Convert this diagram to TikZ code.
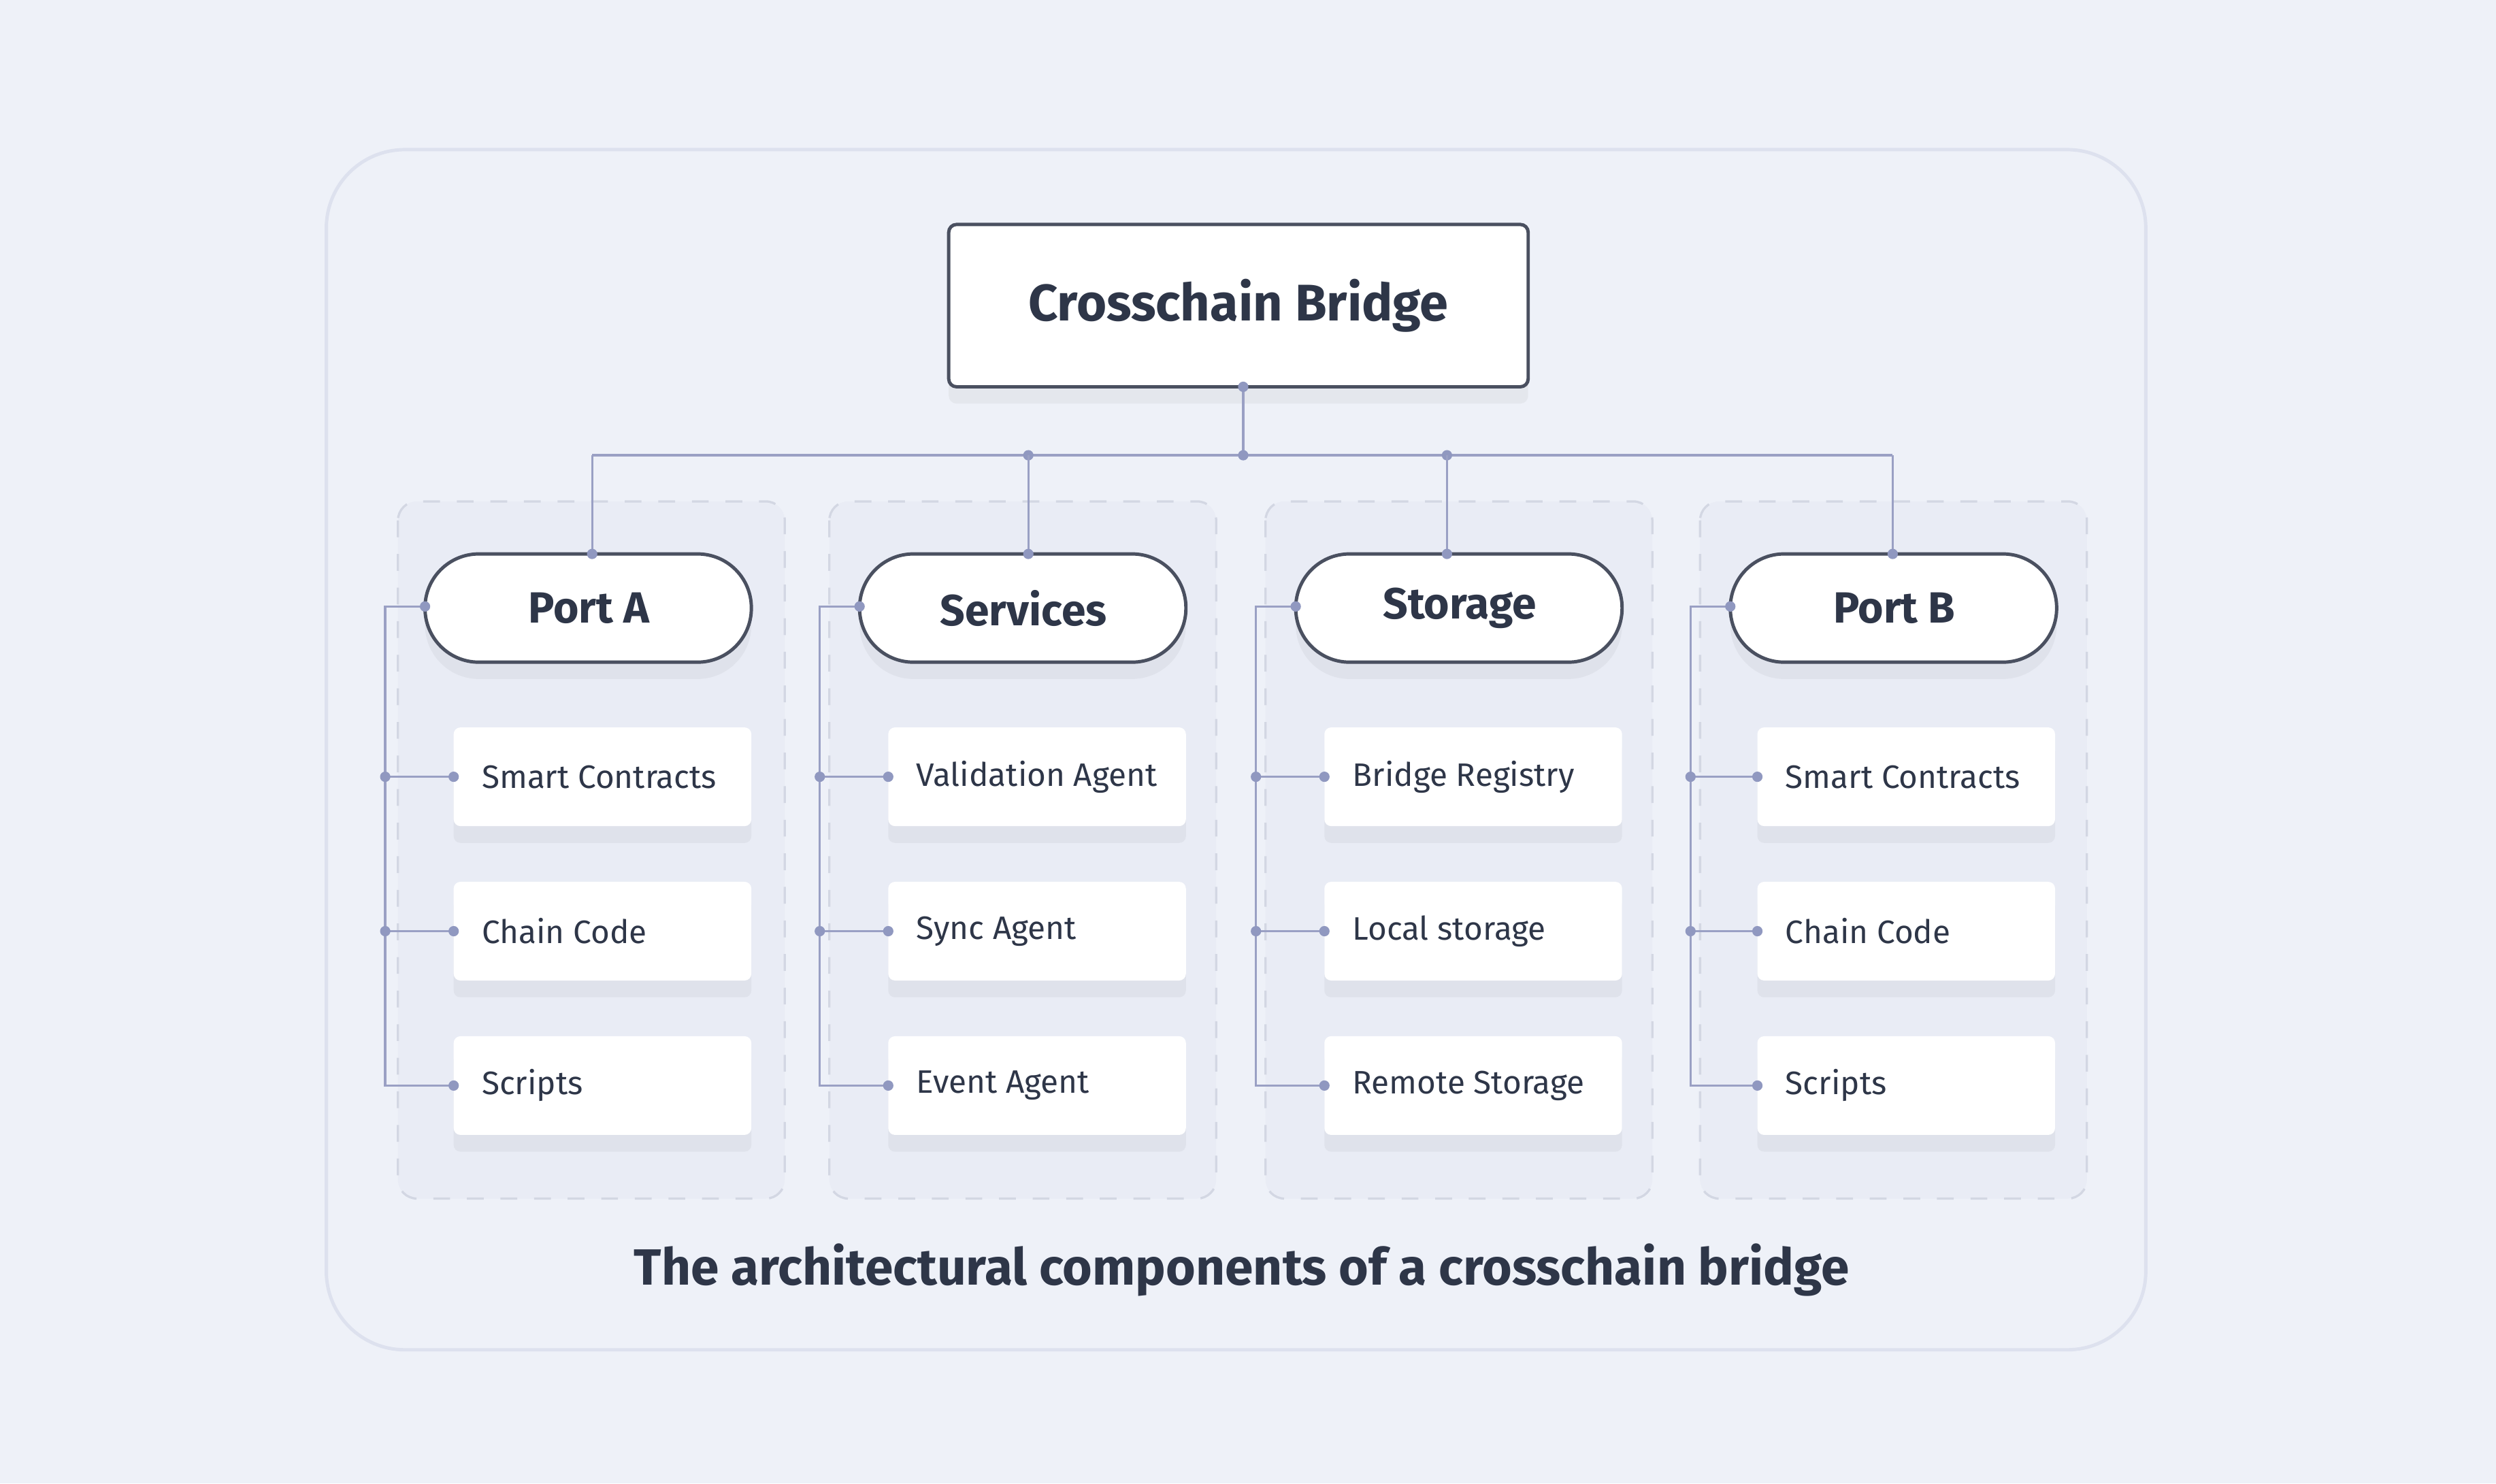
\documentclass[tikz,border=0pt]{standalone}
\usepackage{fontspec}
\setmainfont{Fira Sans}
\usetikzlibrary{shadows}
\definecolor{bg}{HTML}{EEF1F8}
\definecolor{colfill}{HTML}{E9ECF5}
\definecolor{dash}{HTML}{D3D7E3}
\definecolor{outer}{HTML}{DDE1EE}
\definecolor{dark}{HTML}{4A5060}
\definecolor{txt}{HTML}{2E3648}
\definecolor{wire}{HTML}{9AA0C4}
\definecolor{dotc}{HTML}{9098C0}
\begin{document}
\begin{tikzpicture}[x=0.01cm,y=-0.01cm,
  shd/.style={drop shadow={shadow xshift=0pt,shadow yshift=-3pt,opacity=0.06,fill=black!70}},
  col/.style={draw=dash,dashed,fill=colfill,rounded corners=3.4pt,line width=0.4pt},
  pill/.style={draw=dark,fill=white,rounded corners=9.6pt,line width=0.6pt,shd},
  item/.style={fill=white,rounded corners=1.2pt,shd},
  wirest/.style={draw=wire,line width=0.4pt},
  dt/.style={circle,fill=dotc,inner sep=0pt,minimum size=6.5*0.01cm},
  ptxt/.style={font=\fontsize{7.8pt}{9pt}\selectfont\bfseries,text=txt},
  itxt/.style={font=\fontsize{5.8pt}{7pt}\selectfont,text=txt,anchor=west,inner sep=0pt}]
\fill[bg] (0,0) rectangle (1568,932);
\useasboundingbox (0,0) rectangle (1568,932);
\draw[outer,fill=bg,line width=0.6pt,rounded corners=14pt] (205,94) rectangle (1348,848);
% top box
\draw[dark,fill=white,rounded corners=1.4pt,line width=0.6pt,shd] (596,141) rectangle (960,243);
\node[font=\fontsize{9.2pt}{10pt}\selectfont\bfseries,text=txt] (top) at (778,192) {Crosschain Bridge};
\coordinate (tb) at (781,243);
\coordinate (bus) at (781,286);
\draw[wirest] (tb) -- (bus);
\draw[wirest] (372,286) -- (1189,286);
\node[dt] at (tb) {};
\node[dt] at (bus) {};
\node[dt] at (646,286) {};
\node[dt] at (909,286) {};
\foreach \cx/\px/\ix/\dx/\name/\a/\b/\c [count=\i] in {
 250/267/285/372/Port A/Smart Contracts/Chain Code/Scripts,
 521/540/558/646/Services/Validation Agent/Sync Agent/Event Agent,
 795/814/832/909/Storage/Bridge Registry/Local storage/Remote Storage,
 1068/1087/1104/1189/Port B/Smart Contracts/Chain Code/Scripts}{
  \draw[col] (\cx,315) rectangle ++(243,438);
  \draw[wirest] (\dx,286) -- (\dx,348);
  \draw[pill] (\px,348) rectangle ++(205,68);
  \node[ptxt] (p\i) at (\px+103,382) {\name};
  \node[dt] at (\dx,348) {};
  \foreach \y/\t [count=\j] in {488/\a,585/\b,682/\c}{
    \fill[item] (\ix,\y-31) rectangle ++(187,62);
    \node[itxt] (it\i\j) at (\ix+17,\y) {\t};
  }
  \coordinate (L\i) at (\px,381);
  \coordinate (V\i) at (\px-25,381);
  \draw[wirest] (L\i) -- (V\i) -- (\px-25,682) -- (\ix,682);
  \draw[wirest] (\px-25,488) -- (\ix,488);
  \draw[wirest] (\px-25,585) -- (\ix,585);
  \node[dt] at (L\i) {};
  \foreach \y in {488,585}{\node[dt] at (\px-25,\y) {};}
  \foreach \y in {488,585,682}{\node[dt] at (\ix,\y) {};}
}
\node[font=\fontsize{9.1pt}{10pt}\selectfont\bfseries,text=txt] (cap) at (780,798) {The architectural components of a crosschain bridge};
\end{tikzpicture}
\end{document}
